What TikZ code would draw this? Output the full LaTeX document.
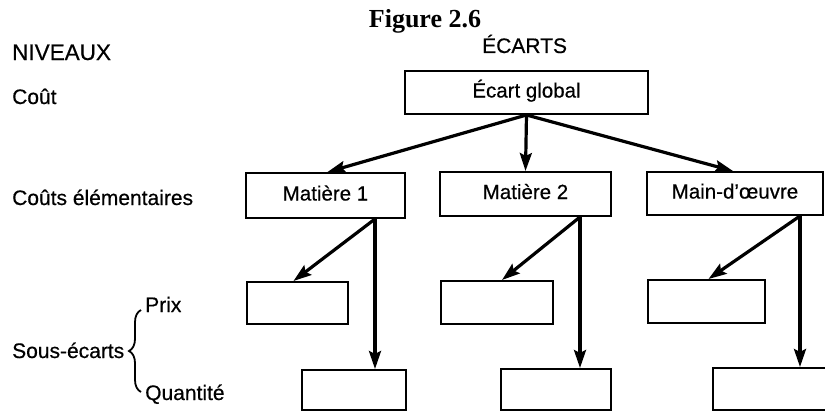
\documentclass[tikz,border=0pt]{standalone}
\usepackage{fontspec}
\setmainfont{Liberation Sans}
\newfontfamily\lblfont{Liberation Sans}[FakeBold=0.5]
\newfontfamily\titlefont{Liberation Serif}
\usetikzlibrary{arrows.meta,decorations.pathreplacing,calc}
\begin{document}
\begin{tikzpicture}[x=1pt,y=-1pt,
  box/.style={draw,line width=2pt,inner sep=0pt,text height=14pt,text depth=4pt,font=\lblfont\fontsize{20.5}{24}\selectfont},
  ebox/.style={draw,line width=2pt,inner sep=0pt},
  lbl/.style={anchor=base west,inner sep=0pt,font=\lblfont\fontsize{21}{25}\selectfont},
  arr/.style={line width=3.2pt,-{Stealth[length=18pt,width=12pt,inset=3pt]}}]
\useasboundingbox (0,0) rectangle (825,412);
% title and headings
\node[anchor=base,inner sep=0pt,font=\titlefont\bfseries\fontsize{26}{30}\selectfont] (title) at (425,28) {Figure 2.6};
\node[lbl,font=\lblfont\fontsize{22.5}{26}\selectfont] (niv) at (12,60) {NIVEAUX};
\node[lbl] (ec) at (482,53) {ÉCARTS};
\node[lbl] (cout) at (12,104) {Coût};
\node[lbl] (ce) at (12,205) {Coûts élémentaires};
\node[lbl] (se) at (12,358) {Sous-écarts};
\node[lbl] (prix) at (145,312) {Prix};
\node[lbl] (qte) at (145,400) {Quantité};
% brace
\coordinate (bb) at (141,392);
\coordinate (bt) at (141,310);
\draw[line width=1.8pt,decorate,decoration={brace,amplitude=12pt}] (bb) -- (bt);
% boxes
\node[box,minimum width=243pt,minimum height=43pt] (glob) at (526.5,92.5) {Écart global};
\node[box,minimum width=159pt,minimum height=45pt] (m1) at (325.5,195.5) {Matière 1};
\node[box,minimum width=171pt,minimum height=44pt] (m2) at (525.5,194) {Matière 2};
\node[box,minimum width=176pt,minimum height=43pt] (mo) at (735,193.5) {Main-d’œuvre};
\node[ebox,minimum width=101pt,minimum height=42pt] (p1) at (297.5,303) {};
\node[ebox,minimum width=104pt,minimum height=40pt] (q1) at (354,390) {};
\node[ebox,minimum width=112pt,minimum height=43pt] (p2) at (497,302.5) {};
\node[ebox,minimum width=110pt,minimum height=41pt] (q2) at (556,389.5) {};
\node[ebox,minimum width=117pt,minimum height=43pt] (p3) at (706.5,301.5) {};
\node[ebox,minimum width=122pt,minimum height=42pt] (q3) at (774,389) {};
% arrows from global
\draw[arr] (glob.south) -- ([xshift=2pt]m1.north);
\draw[arr] (glob.south) -- (m2.north);
\draw[arr] (glob.south) -- ([xshift=-2pt]mo.north);
% sub arrows
\coordinate (m1o) at ([xshift=49.5pt]m1.south);
\coordinate (m2o) at ([xshift=54.5pt]m2.south);
\coordinate (moo) at ([xshift=65pt]mo.south);
\draw[arr] (m1o) -- ([xshift=-4pt]p1.north);
\draw[arr] (m1o) -- (m1o |- q1.north);
\draw[arr] (m2o) -- ([xshift=5pt]p2.north);
\draw[arr] (m2o) -- (m2o |- q2.north);
\draw[arr] (moo) -- ([xshift=2pt]p3.north);
\draw[arr] (moo) -- (moo |- q3.north);
\end{tikzpicture}
\end{document}
